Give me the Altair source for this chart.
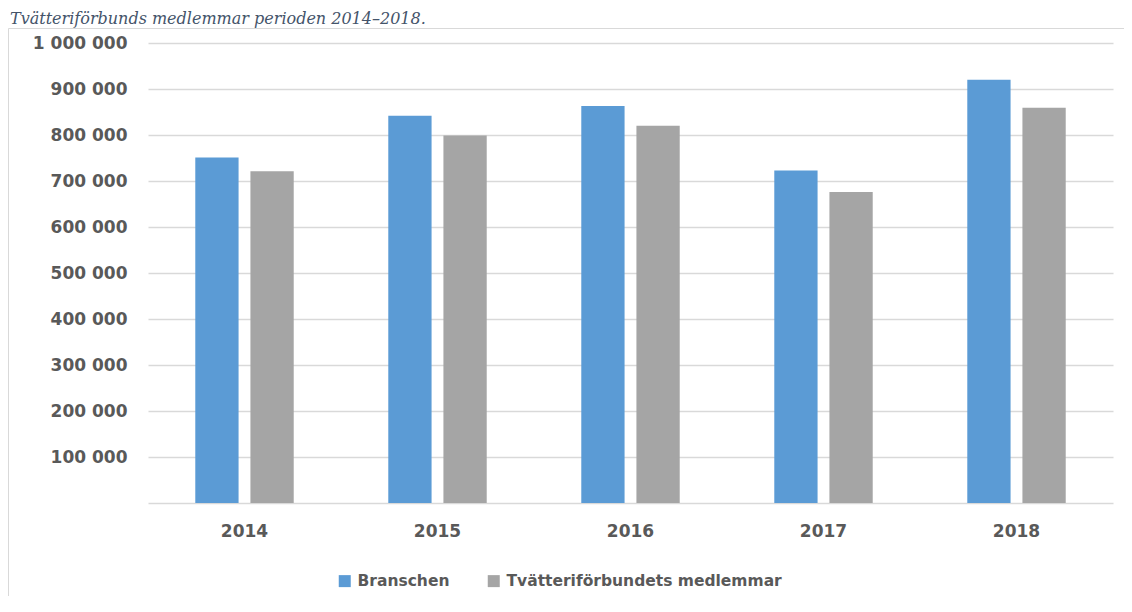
import altair as alt
import pandas as pd

years = ["2014", "2015", "2016", "2017", "2018"]
series_names = ["Branschen", "Tvätteriförbundets medlemmar"]
branschen = [751000, 842000, 863000, 723000, 920000]
medlemmar = [721000, 799000, 820000, 676000, 859000]
colors = ["#5B9BD5", "#A5A5A5"]
y_ticks = [0, 100000, 200000, 300000, 400000, 500000, 600000, 700000, 800000, 900000, 1000000]
caption = "Tvätteriförbunds medlemmar perioden 2014–2018."

rows = []
for i, yr in enumerate(years):
    rows.append({"year": yr, "series": series_names[0], "value": branschen[i]})
    rows.append({"year": yr, "series": series_names[1], "value": medlemmar[i]})
df = pd.DataFrame(rows)

label_color = "#595959"
font = "DejaVu Sans"

bars = alt.Chart(df).mark_bar().encode(
    x=alt.X(
        "year:N",
        sort=years,
        scale=alt.Scale(paddingInner=0.49, paddingOuter=0.245),
        axis=alt.Axis(
            title=None, labelAngle=0, domain=False, ticks=False, tickSize=0,
            labelPadding=20, labelFont=font, labelFontWeight="bold",
            labelFontSize=17, labelColor=label_color, grid=False,
        ),
    ),
    xOffset=alt.XOffset(
        "series:N", sort=series_names,
        scale=alt.Scale(paddingInner=0.215, paddingOuter=0),
    ),
    y=alt.Y(
        "value:Q",
        scale=alt.Scale(domain=[0, 1000000], nice=False),
        axis=alt.Axis(
            title=None, values=y_ticks, domain=False, ticks=False, tickSize=0,
            labelPadding=21, labelFont=font, labelFontWeight="bold",
            labelFontSize=17, labelColor=label_color,
            gridColor="#D9D9D9", gridWidth=1.5,
            labelExpr="datum.value == 0 ? '' : replace(replace(format(datum.value, ','), ',', ' '), ',', ' ')",
        ),
    ),
    color=alt.Color(
        "series:N",
        sort=series_names,
        scale=alt.Scale(domain=series_names, range=colors),
        legend=alt.Legend(
            title=None, orient="none", direction="horizontal",
            legendX=189, legendY=530,
            symbolType="square", symbolSize=144, symbolStrokeWidth=0,
            labelFont=font, labelFontWeight="bold", labelFontSize=15.5,
            labelColor=label_color, labelOffset=5, columnPadding=36,
            labelLimit=0,
        ),
    ),
)

one = pd.DataFrame({"a": [0]})
border = alt.Chart(one).mark_rect(
    fillOpacity=0, stroke="#D9D9D9", strokeWidth=1
).encode(
    x=alt.value(-139.5), x2=alt.value(1200),
    y=alt.value(-14.5), y2=alt.value(800),
)

title = alt.Chart(one).mark_text(
    align="left", baseline="alphabetic", font="DejaVu Serif",
    fontStyle="italic", fontSize=16, color="#44546A",
).encode(
    x=alt.value(-138), y=alt.value(-19), text=alt.value(caption),
)

chart = alt.layer(border, bars, title).properties(
    width=965, height=460,
    autosize=alt.AutoSizeParams(type="none"),
    padding={"left": 140, "top": 35, "right": 11, "bottom": 93},
).configure_view(stroke=None)

chart.save("out.html", embed_options={"renderer": "svg", "actions": False})
